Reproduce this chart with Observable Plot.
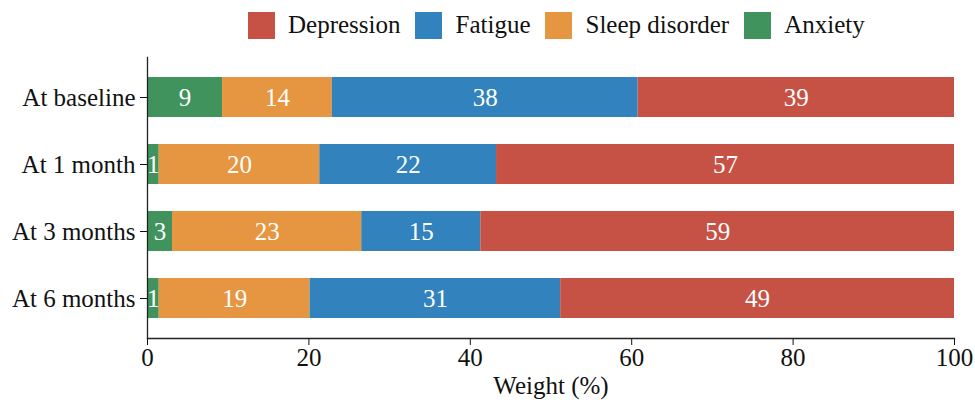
<!DOCTYPE html>
<html>
<head>
<meta charset="utf-8">
<script src="https://cdn.jsdelivr.net/npm/d3@7"></script>
<script src="https://cdn.jsdelivr.net/npm/@observablehq/plot@0.6"></script>
<style>
  html, body { margin: 0; padding: 0; background: #fff; }
  body { width: 975px; height: 402px; overflow: hidden; font-family: "Liberation Serif", "Times New Roman", serif; }
  #legend { height: 50px; display: flex; align-items: center; padding-left: 248px; box-sizing: border-box; font-size: 25px; color: #111; }
  .item { display: flex; align-items: center; margin-right: 15px; }
  .sw { width: 27px; height: 27px; margin-right: 13px; }
  #chart svg { display: block; }
</style>
</head>
<body>
<div id="legend"></div>
<div id="chart"></div>
<script>
const times = ["At baseline", "At 1 month", "At 3 months", "At 6 months"];
const causes = ["Depression", "Fatigue", "Sleep disorder", "Anxiety"];
const stackOrder = ["Anxiety", "Sleep disorder", "Fatigue", "Depression"];
const colors = ["#c65245", "#3182bd", "#e69541", "#41935e"];

const anxiety = [9.3, 1.45, 3.1, 1.45];
const sleepDisorder = [13.6, 19.9, 23.45, 18.7];
const fatigue = [37.9, 21.9, 14.75, 31.05];
const depression = [39.2, 56.75, 58.7, 48.8];

const series = {
  "Anxiety": anxiety,
  "Sleep disorder": sleepDisorder,
  "Fatigue": fatigue,
  "Depression": depression
};

const data = [];
times.forEach((t, i) => {
  stackOrder.forEach(c => data.push({time: t, cause: c, value: series[c][i]}));
});

// legend
const legend = document.getElementById("legend");
causes.forEach((c, i) => {
  const it = document.createElement("div");
  it.className = "item";
  const sw = document.createElement("div");
  sw.className = "sw";
  sw.style.background = colors[i];
  const tx = document.createElement("span");
  tx.textContent = c;
  it.appendChild(sw);
  it.appendChild(tx);
  legend.appendChild(it);
});

const chart = Plot.plot({
  width: 975,
  height: 352,
  marginLeft: 147,
  marginRight: 21,
  marginTop: 7,
  marginBottom: 64,
  style: {fontFamily: "'Liberation Serif', 'Times New Roman', serif", fontSize: "25px", color: "#111", background: "#fff"},
  x: {domain: [0, 100]},
  y: {domain: times, paddingInner: 0.4, paddingOuter: 0.29},
  color: {domain: causes, range: colors},
  marks: [
    Plot.barX(data, Plot.stackX({x: "value", y: "time", fill: "cause", z: "cause", order: stackOrder})),
    Plot.text(data, Plot.stackX({x: "value", y: "time", z: "cause", order: stackOrder, text: d => Math.round(d.value), fill: "white", fontSize: 25})),
    Plot.axisY({tickSize: 7, tickPadding: 5, label: null, fontSize: 25}),
    Plot.axisX({ticks: [0, 20, 40, 60, 80, 100], tickSize: 7, tickPadding: 3, label: null, fontSize: 25}),
    Plot.frame({anchor: "left", stroke: "#222", strokeWidth: 1.3}),
    Plot.frame({anchor: "bottom", stroke: "#222", strokeWidth: 1.3}),
    Plot.text(["Weight (%)"], {frameAnchor: "bottom", dy: 47, lineAnchor: "middle", fontSize: 25, fill: "#111"})
  ]
});
document.getElementById("chart").appendChild(chart);
</script>
</body>
</html>
